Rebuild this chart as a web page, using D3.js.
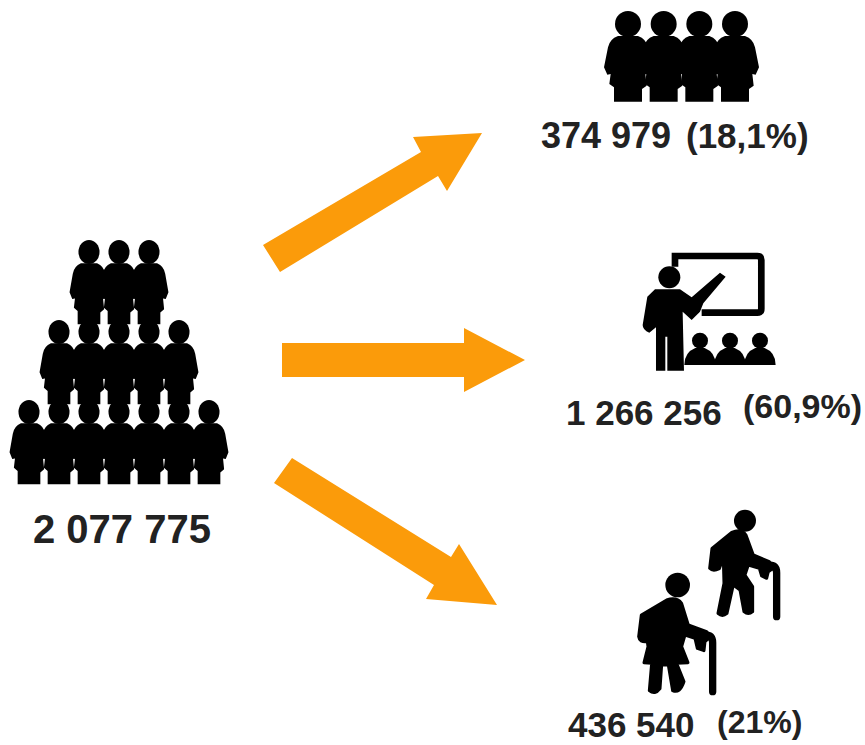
<!DOCTYPE html>
<html>

<head>
    <meta charset="utf-8">
    <title>Population by age group</title>
    <script src="https://d3js.org/d3.v7.min.js"></script>
</head>
<style>
    html, body {
        margin: 0;
        padding: 0;
        background: white;
    }

    svg {
        display: block;
    }

    .label {
        font-family: "Liberation Sans", Arial, sans-serif;
        font-weight: bold;
        fill: #222;
    }
</style>

<body>
    <svg id="chart"></svg>
    <script>
        // Values
        const totalPopulation = 2077775;
        const groupPopulation = [374979, 1266256, 436540];
        const groupShare = [18.1, 60.9, 21];
        const pyramidRows = [3, 5, 7];
        const youngCount = 4;

        const width = 865, height = 745;
        const orange = "#fb9b0a";
        const ink = "#000";

        const svg = d3.select("#chart").attr("width", width).attr("height", height);

        // Numbers use a space for thousands and a comma for decimals
        const locale = d3.formatLocale({ decimal: ",", thousands: " ", grouping: [3], currency: ["", ""] });
        const fmtCount = locale.format(",d");
        const fmtShare = d => locale.format(Number.isInteger(d) ? "d" : ".1f")(d) + "%";

        // One figure, head centre at 0,0 (units are 1/3 px)
        const personBody = "M-30,36 L30,36 Q55,45 60,70 L72,130 L62,152 L52,150 L56,185 L42,195 L42,233 L-42,233 L-42,190 L-56,180 L-52,150 L-62,152 L-72,130 L-60,70 Q-55,45 -30,36 Z";

        function person(parent, x, y, sx, sy) {
            const g = parent.append("g").attr("transform", `translate(${x},${y}) scale(${sx},${sy})`);
            g.append("circle").attr("r", 39).attr("fill", ink);
            g.append("path").attr("d", personBody).attr("fill", ink);
        }

        // Pyramid on the left
        const pyramidX = d3.scaleLinear().domain([0, 1]).range([119, 149]);
        const pyramidY = d3.scaleOrdinal().domain(pyramidRows).range([252, 332, 412]);
        pyramidRows.forEach(n => {
            d3.range(n).forEach(i => {
                person(svg, pyramidX(i - (n - 1) / 2), pyramidY(n), 0.27, 0.31);
            });
        });

        // Row of young people
        const youngX = d3.scaleLinear().domain([0, youngCount - 1]).range([628, 735]);
        d3.range(youngCount).forEach(i => person(svg, youngX(i), 24, 1 / 3, 1 / 3));

        // Teacher at the board
        const teacher = svg.append("g").attr("transform", "translate(560,240) scale(0.3333)");
        teacher.append("path")
            .attr("d", "M345,80 L345,48 L592,48 Q604,48 604,60 L604,206 Q604,218 592,218 L425,218")
            .attr("fill", "none").attr("stroke", ink).attr("stroke-width", 20);
        teacher.append("circle").attr("cx", 328).attr("cy", 112).attr("r", 33).attr("fill", ink);
        teacher.append("path")
            .attr("d", "M285,148 L360,148 L395,172 L480,98 L497,110 L430,190 L420,215 L395,240 L368,215 L372,392 L322,392 L322,290 L316,290 L316,392 L288,392 L288,262 L268,278 Q248,270 248,255 L262,170 Z")
            .attr("fill", ink);
        [420, 510, 600].forEach(cx => {
            const seat = teacher.append("g").attr("transform", `translate(${cx},0)`);
            seat.append("circle").attr("cy", 302).attr("r", 24).attr("fill", ink);
            seat.append("path").attr("d", "M-47,375 Q-47,337 -14,324 L14,324 Q47,337 47,375 Z").attr("fill", ink);
        });

        // Two elderly people with canes
        const elderly = svg.append("g").attr("transform", "translate(560,500) scale(0.3333)");
        elderly.append("circle").attr("cx", 555).attr("cy", 62).attr("r", 33).attr("fill", ink);
        elderly.append("path")
            .attr("d", "M515,97 Q545,85 558,105 L580,165 L628,185 L640,205 L625,215 L620,235 L605,228 L598,205 L565,195 L555,225 L578,260 L578,335 Q565,346 552,335 L540,270 L520,255 L501,340 Q487,352 474,340 L492,250 L490,175 L478,206 Q459,216 449,205 L456,145 Z")
            .attr("fill", ink).attr("stroke", ink).attr("stroke-width", 9).attr("stroke-linejoin", "round");
        elderly.append("path")
            .attr("d", "M625,195 Q650,195 650,218 L650,350")
            .attr("fill", "none").attr("stroke", ink).attr("stroke-width", 22).attr("stroke-linecap", "round");
        elderly.append("circle").attr("cx", 353).attr("cy", 255).attr("r", 37).attr("fill", ink);
        elderly.append("path")
            .attr("d", "M320,300 Q350,290 365,310 L385,375 L440,395 L452,410 L435,425 L432,452 L412,445 L405,415 L375,405 L365,440 L384,488 L350,490 L372,545 Q360,582 338,572 L325,495 L305,495 L300,566 Q285,586 268,572 L275,490 L252,488 L264,440 L262,425 Q238,428 236,410 L244,345 Z")
            .attr("fill", ink).attr("stroke", ink).attr("stroke-width", 9).attr("stroke-linejoin", "round");
        elderly.append("path")
            .attr("d", "M435,405 Q458,405 458,428 L458,575")
            .attr("fill", "none").attr("stroke", ink).attr("stroke-width", 22).attr("stroke-linecap", "round");

        // Arrow outlines
        const arrowUp = [[263, 245], [421, 152], [413, 137], [482, 133], [447, 191], [438, 176], [280, 272]];
        const arrowRight = [[282, 343], [464, 343], [464, 328], [525, 360], [464, 392], [464, 377], [282, 377]];
        const arrowDown = [[292, 458], [451, 557], [459, 544], [497, 605], [426, 599], [434, 585], [274, 483]];

        const outline = d3.line();
        [arrowUp, arrowRight, arrowDown].forEach(pts => {
            svg.append("path").attr("d", outline(pts) + "Z").attr("fill", orange);
        });

        // Labels
        function label(x, y, size, str) {
            svg.append("text").attr("class", "label")
                .attr("x", x).attr("y", y)
                .attr("font-size", size)
                .text(str);
        }

        label(33, 543, 40, fmtCount(totalPopulation));

        label(541, 148, 36, fmtCount(groupPopulation[0]));
        label(686, 148, 35, "(" + fmtShare(groupShare[0]) + ")");

        label(566, 425, 35, fmtCount(groupPopulation[1]));
        label(743, 418, 34, "(" + fmtShare(groupShare[1]) + ")");

        label(568, 737, 35, fmtCount(groupPopulation[2]));
        label(717, 733, 32, "(" + fmtShare(groupShare[2]) + ")");
    </script>

</body>

</html>
